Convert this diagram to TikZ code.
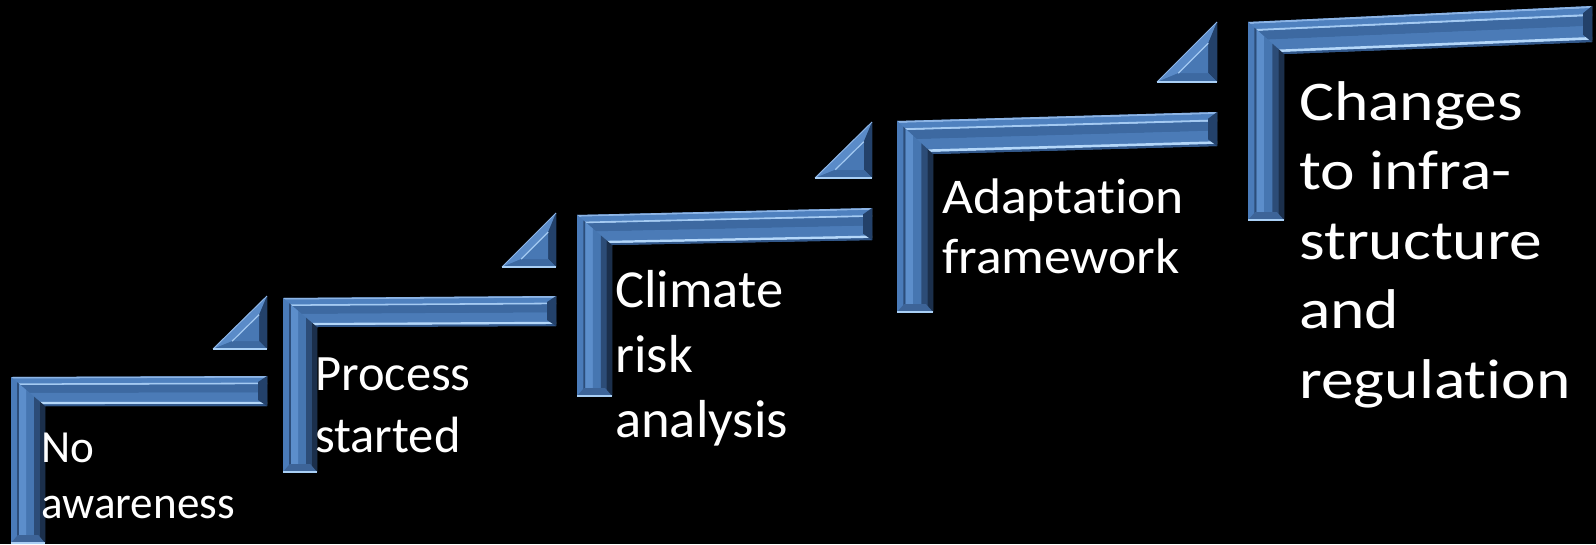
\documentclass[tikz,border=0pt]{standalone}
\usepackage{fontspec}
\setmainfont{Carlito}[Ligatures={NoCommon,NoContextual}]
\usepackage{graphicx}
\usetikzlibrary{calc}
\definecolor{bvbase}{HTML}{4A7BB8}
\definecolor{tbA}{HTML}{8DB5E6}
\definecolor{tbB}{HTML}{4F81BF}
\definecolor{tbC}{HTML}{A4CAF2}
\definecolor{tbD}{HTML}{3D69A1}
\definecolor{tbE}{HTML}{4B7BB7}
\definecolor{tbF}{HTML}{B4D7F9}
\definecolor{tbG}{HTML}{31578A}
\definecolor{lbA}{HTML}{4A7BB9}
\definecolor{lbB}{HTML}{2C4D7A}
\definecolor{lbC}{HTML}{5C8ECB}
\definecolor{lbD}{HTML}{4676B1}
\definecolor{lbE}{HTML}{2C4C77}
\definecolor{lbF}{HTML}{1B2F4B}
\definecolor{capdark}{HTML}{23416A}
\definecolor{capmid}{HTML}{3D6498}
\definecolor{rimlight}{HTML}{A9CFF5}
\definecolor{trilit}{HTML}{5A8BC8}
\definecolor{triin}{HTML}{4878B4}
% prefix, L, I, R, TL, TR, IB, RB, B
\newcommand\defstep[9]{%
  \coordinate (#1A) at (#2,#5);
  \coordinate (#1B) at (#4,#6);
  \coordinate (#1C) at (#4,#8);
  \coordinate (#1D) at (#3,#7);
  \coordinate (#1E) at (#3,#9);
  \coordinate (#1F) at (#2,#9);}
\newcommand\topband[4]{\fill[#4] ($(#1A)!#2!(#1D)$) -- ($(#1B)!#2!(#1C)$) -- ($(#1B)!#3!(#1C)$) -- ($(#1A)!#3!(#1D)$) -- cycle;}
\newcommand\leftband[4]{\fill[#4] ($(#1F)!#2!(#1E)$) -- ($(#1A)!#2!(#1D)$) -- ($(#1A)!#3!(#1D)$) -- ($(#1F)!#3!(#1E)$) -- cycle;}
% prefix, x1, x2, yb, yt, r
\newcommand\deftri[6]{%
  \coordinate (#1a) at (#2,#4);
  \coordinate (#1b) at (#3,#4);
  \coordinate (#1c) at (#3,#5);
  \coordinate (#1i) at ($(#1b)+(-#6,-#6)$);
  \coordinate (#1ai) at ($(#1i)!0.5!(#1a)$);
  \coordinate (#1bi) at ($(#1i)!0.5!(#1b)$);
  \coordinate (#1ci) at ($(#1i)!0.5!(#1c)$);}
\tikzset{steptext/.style={text=white, inner sep=0pt, anchor=base west}}
\begin{document}
\begin{tikzpicture}[x=1pt,y=-1pt]
\useasboundingbox (0,0) rectangle (1596,544);
\fill[black] (0,0) rectangle (1596,544);
\defstep{a}{11}{45}{267}{377}{376}{406}{406}{543}
\defstep{b}{283}{317}{556}{298}{296}{327}{326}{472}
\defstep{c}{577}{612}{872}{215}{208}{245}{240}{396}
\defstep{d}{897}{933}{1217}{121}{112}{154}{146}{312}
\defstep{e}{1248}{1284}{1592}{22}{6}{54}{42}{220}
\deftri{p}{213}{267}{349}{296}{15.7}
\deftri{q}{502}{556}{267}{213}{15.8}
\deftri{r}{815}{872}{178}{122}{16.5}
\deftri{s}{1157}{1217}{82}{22}{17.6}
\foreach \s in {a,b,c,d,e}{
  \fill[bvbase] (\s A) -- (\s B) -- (\s C) -- (\s D) -- (\s E) -- (\s F) -- cycle;
  \foreach \ta/\tb/\cl in {0/0.06/tbA, 0.06/0.22/tbB, 0.22/0.28/tbC, 0.28/0.55/tbD, 0.55/0.86/tbE, 0.86/0.94/tbF, 0.94/1/tbG}{\topband{\s}{\ta}{\tb}{\cl}}
  \foreach \ta/\tb/\cl in {0/0.18/lbA, 0.18/0.24/lbB, 0.24/0.45/lbC, 0.45/0.68/lbD, 0.68/0.84/lbE, 0.84/1/lbF}{\leftband{\s}{\ta}{\tb}{\cl}}
  \fill[capdark] (\s B) -- (\s C) -- ($(\s B)!0.8!(\s C)+(-9,0)$) -- ($(\s B)!0.2!(\s C)+(-9,0)$) -- cycle;
  \fill[capmid] (\s F) -- (\s E) -- ($(\s E)!0.2!(\s F)+(0,-8)$) -- ($(\s F)!0.2!(\s E)+(0,-8)$) -- cycle;
  \draw[rimlight, line width=1.5pt] (\s F) -- (\s E);
}
\foreach \t in {p,q,r,s}{
  \fill[bvbase] (\t a) -- (\t b) -- (\t c) -- cycle;
  \fill[trilit] (\t a) -- (\t c) -- (\t ci) -- (\t ai) -- cycle;
  \fill[capdark] (\t b) -- (\t c) -- (\t ci) -- (\t bi) -- cycle;
  \fill[tbD] (\t a) -- (\t b) -- (\t bi) -- (\t ai) -- cycle;
  \fill[triin] (\t ai) -- (\t bi) -- (\t ci) -- cycle;
  \draw[tbC, line width=1.2pt] (\t ai) -- (\t ci);
  \draw[tbA, line width=1pt] (\t a) -- (\t c);
  \draw[rimlight, line width=1.5pt] (\t a) -- (\t b);
}
\node[steptext] (t1) at (41,462) {\fontsize{46}{56}\selectfont\scalebox{0.98}[1]{\begin{tabular}[t]{@{}l@{}}No\\awareness\end{tabular}}};
\node[steptext] (t2) at (315,390) {\fontsize{51}{62}\selectfont\scalebox{0.99}[1]{\begin{tabular}[t]{@{}l@{}}Process\\started\end{tabular}}};
\node[steptext] (t3) at (615,307) {\fontsize{53.5}{65}\selectfont\scalebox{1.02}[1]{\begin{tabular}[t]{@{}l@{}}Climate\\risk\\analysis\end{tabular}}};
\node[steptext] (t4) at (942,213) {\fontsize{50}{60}\selectfont\scalebox{1.07}[1]{\begin{tabular}[t]{@{}l@{}}Adaptation\\framework\end{tabular}}};
\node[steptext] (t5) at (1299,120) {\fontsize{56}{69.5}\selectfont\scalebox{1.17}[1]{\begin{tabular}[t]{@{}l@{}}Changes\\to infra-\\structure\\and\\regulation\end{tabular}}};
\end{tikzpicture}
\end{document}
